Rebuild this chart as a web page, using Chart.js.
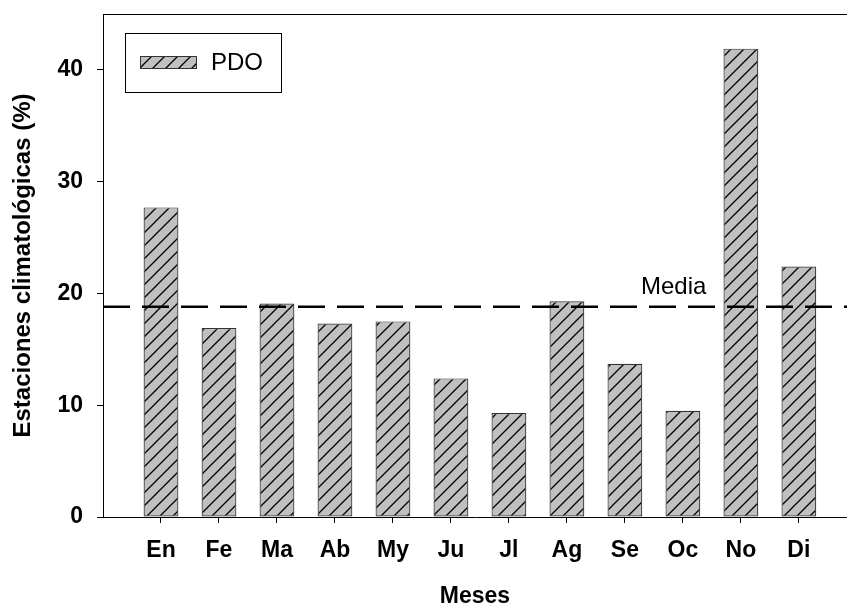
<!DOCTYPE html>
<html>
<head>
<meta charset="utf-8">
<script src="https://cdn.jsdelivr.net/npm/chart.js@4/dist/chart.umd.min.js"></script>
<style>
  body { margin: 0; background: #fff; }
  #wrap { width: 847px; height: 610px; }
</style>
</head>
<body>
<div id="wrap"><canvas id="pdoChart" width="847" height="610"></canvas></div>
<script>
// months (x categories) and PDO percentages
const meses = ["En", "Fe", "Ma", "Ab", "My", "Ju", "Jl", "Ag", "Se", "Oc", "No", "Di"];
const pdo = [27.7, 16.9, 19.1, 17.3, 17.5, 12.4, 9.3, 19.3, 13.7, 9.5, 41.9, 22.4];
// mean line value
const media = 18.8;
const yTicks = [0, 10, 20, 30, 40];

const fontFam = "'Liberation Sans', Arial, sans-serif";

// hatch pattern: grey fill with "/" lines
function makeHatch() {
  const s = 13;
  const c = document.createElement("canvas");
  c.width = s;
  c.height = s;
  const g = c.getContext("2d");
  g.fillStyle = "#c0c0c0";
  g.fillRect(0, 0, s, s);
  g.strokeStyle = "#000";
  g.lineWidth = 1.3;
  g.beginPath();
  g.moveTo(-1, s + 1);
  g.lineTo(s + 1, -1);
  g.moveTo(-1, 1);
  g.lineTo(1, -1);
  g.moveTo(s - 1, s + 1);
  g.lineTo(s + 1, s - 1);
  g.stroke();
  return g.createPattern(c, "repeat");
}

const ctx = document.querySelector("#pdoChart").getContext("2d");
const hatch = makeHatch();

// frame top line, legend and "Media" label
const extras = {
  id: "extras",
  afterDraw(chart) {
    const { ctx, chartArea, scales } = chart;
    ctx.save();
    // top border
    ctx.strokeStyle = "#000";
    ctx.lineWidth = 1;
    ctx.beginPath();
    ctx.moveTo(chartArea.left, chartArea.top + 0.5);
    ctx.lineTo(chartArea.right, chartArea.top + 0.5);
    ctx.stroke();

    // legend box
    ctx.strokeRect(125.5, 33.5, 156, 59);
    ctx.fillStyle = hatch;
    ctx.fillRect(140, 56, 57, 13);
    ctx.strokeStyle = "#333";
    ctx.strokeRect(140.5, 56.5, 56, 12);
    ctx.fillStyle = "#000";
    ctx.font = "24px " + fontFam;
    ctx.textBaseline = "middle";
    ctx.textAlign = "left";
    ctx.fillText("PDO", 211, 63);

    // mean label
    ctx.font = "24px " + fontFam;
    ctx.textBaseline = "alphabetic";
    ctx.fillText("Media", 641, scales.y.getPixelForValue(media) - 13);
    ctx.restore();
  },
};

const data = {
  datasets: [
    {
      type: "line",
      label: "Media",
      data: [
        { x: 0, y: media },
        { x: 12.83, y: media },
      ],
      borderColor: "#000",
      borderWidth: 2.5,
      borderDash: [27, 12],
      pointRadius: 0,
      order: 0,
    },
    {
      type: "bar",
      label: "PDO",
      data: pdo.map((v, i) => ({ x: i + 1, y: v })),
      backgroundColor: hatch,
      borderColor: "#333",
      borderWidth: 1.2,
      borderSkipped: false,
      categoryPercentage: 1,
      barPercentage: 0.6,
      order: 1,
    },
  ],
};

const config = {
  type: "bar",
  data: data,
  plugins: [extras],
  options: {
    responsive: false,
    animation: false,
    layout: { padding: { top: 14, right: 0, left: 0, bottom: 0 } },
    plugins: {
      legend: { display: false },
      tooltip: { enabled: false },
    },
    scales: {
      x: {
        type: "linear",
        min: 0,
        max: 12.83,
        offset: false,
        afterBuildTicks: (axis) => {
          axis.ticks = meses.map((m, i) => ({ value: i + 1 }));
        },
        afterFit: (axis) => {
          axis.height = 93;
          axis.paddingLeft = 0;
          axis.paddingRight = 0;
        },
        grid: {
          offset: false,
          drawOnChartArea: false,
          drawTicks: true,
          tickLength: 6,
          color: "#000",
        },
        border: { color: "#000", width: 1 },
        ticks: {
          autoSkip: false,
          maxRotation: 0,
          padding: 14,
          color: "#000",
          font: { family: fontFam, size: 23, weight: "bold" },
          callback: (v) => meses[v - 1] || "",
        },
        title: {
          display: true,
          text: "Meses",
          color: "#000",
          padding: { top: 0, bottom: 0 },
          font: { family: fontFam, size: 23, weight: "bold" },
        },
      },
      y: {
        min: 0,
        max: 45,
        afterBuildTicks: (axis) => {
          axis.ticks = yTicks.map((v) => ({ value: v }));
        },
        afterFit: (axis) => {
          axis.width = 103;
          axis.paddingTop = 0;
          axis.paddingBottom = 0;
        },
        grid: {
          drawOnChartArea: false,
          drawTicks: true,
          tickLength: 6,
          color: "#000",
        },
        border: { color: "#000", width: 1 },
        ticks: {
          padding: 14,
          color: "#000",
          font: { family: fontFam, size: 23, weight: "bold" },
        },
        title: {
          display: true,
          text: "Estaciones climatológicas (%)",
          color: "#000",
          padding: { top: 9, bottom: 0 },
          font: { family: fontFam, size: 24, weight: "bold" },
        },
      },
    },
  },
};

new Chart(ctx, config);
</script>
</body>
</html>
